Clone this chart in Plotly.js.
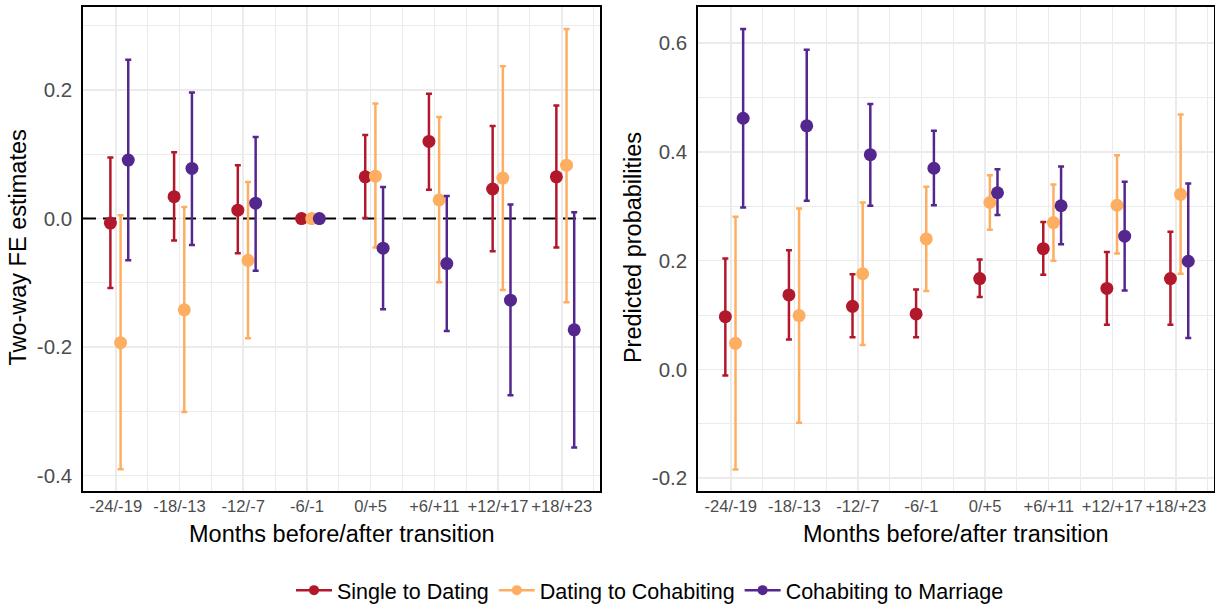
<!DOCTYPE html>
<html>
<head>
<meta charset="utf-8">
<script src="https://cdn.plot.ly/plotly-3.0.1.min.js"></script>
<style>html,body{margin:0;padding:0;background:#fff;}#chart{width:1215px;height:611px;}</style>
</head>
<body>
<div id="chart"></div>
<script>
// ---- data ----
const categories = ['-24/-19','-18/-13','-12/-7','-6/-1','0/+5','+6/+11','+12/+17','+18/+23'];
const seriesNames = ['Single to Dating','Dating to Cohabiting','Cohabiting to Marriage'];

// Left panel: two-way FE estimates
const feSingleEst = [-0.007, 0.034, 0.013, 0, 0.065, 0.120, 0.046, 0.065];
const feSingleLo  = [-0.108, -0.034, -0.054, 0, 0.001, 0.045, -0.051, -0.045];
const feSingleHi  = [0.095, 0.103, 0.083, 0, 0.130, 0.194, 0.144, 0.176];

const feDatingEst = [-0.193, -0.142, -0.065, 0, 0.066, 0.029, 0.063, 0.083];
const feDatingLo  = [-0.390, -0.301, -0.186, 0, -0.045, -0.099, -0.111, -0.130];
const feDatingHi  = [0.005, 0.018, 0.057, 0, 0.179, 0.158, 0.237, 0.295];

const feCohabEst = [0.091, 0.078, 0.024, 0, -0.046, -0.070, -0.127, -0.173];
const feCohabLo  = [-0.065, -0.041, -0.081, 0, -0.141, -0.175, -0.275, -0.356];
const feCohabHi  = [0.247, 0.196, 0.127, 0, 0.049, 0.035, 0.022, 0.010];

// Right panel: predicted probabilities
const ppSingleEst = [0.097, 0.137, 0.116, 0.102, 0.167, 0.222, 0.149, 0.167];
const ppSingleLo  = [-0.011, 0.055, 0.059, 0.059, 0.133, 0.174, 0.082, 0.082];
const ppSingleHi  = [0.204, 0.219, 0.175, 0.147, 0.202, 0.271, 0.216, 0.253];

const ppDatingEst = [0.048, 0.099, 0.176, 0.240, 0.307, 0.270, 0.302, 0.322];
const ppDatingLo  = [-0.184, -0.098, 0.045, 0.144, 0.257, 0.200, 0.213, 0.176];
const ppDatingHi  = [0.281, 0.296, 0.307, 0.336, 0.357, 0.340, 0.394, 0.469];

const ppCohabEst = [0.462, 0.448, 0.395, 0.370, 0.325, 0.301, 0.245, 0.199];
const ppCohabLo  = [0.298, 0.310, 0.301, 0.302, 0.284, 0.230, 0.145, 0.058];
const ppCohabHi  = [0.626, 0.588, 0.488, 0.439, 0.368, 0.373, 0.345, 0.342];

const feTicks = [-0.4, -0.2, 0, 0.2];
const feTickText = ['-0.4', '-0.2', '0.0', '0.2'];
const ppTicks = [-0.2, 0, 0.2, 0.4, 0.6];
const ppTickText = ['-0.2', '0.0', '0.2', '0.4', '0.6'];
const referenceLineY = 0;

// ---- styling ----
const colors = ['#B2182B', '#FDAE61', '#54278F'];
const dodge = [-0.085, 0.075, 0.195];
const FONT = 'Liberation Sans, Arial, Helvetica, sans-serif';
const GRID = '#EBEBEB';
const XRANGE = [0.485, 8.6];

function mk(est, lo, hi, i, xa, ya) {
  const xs = categories.map((c, k) => k + 1 + dodge[i]);
  return {
    type: 'scatter', mode: 'markers', x: xs, y: est, xaxis: xa, yaxis: ya,
    showlegend: false, hoverinfo: 'skip',
    marker: {color: colors[i], size: 13, line: {width: 0}},
    error_y: {type: 'data', symmetric: false,
      array: hi.map((h, k) => h - est[k]),
      arrayminus: lo.map((l, k) => est[k] - l),
      color: colors[i], thickness: 2.5, width: 3}
  };
}

const traces = [
  {type: 'scatter', mode: 'lines', x: XRANGE, y: [referenceLineY, referenceLineY], xaxis: 'x', yaxis: 'y',
    showlegend: false, hoverinfo: 'skip', line: {color: '#000', width: 2, dash: '13px,7px'}},
  mk(feSingleEst, feSingleLo, feSingleHi, 0, 'x', 'y'),
  mk(feDatingEst, feDatingLo, feDatingHi, 1, 'x', 'y'),
  mk(feCohabEst, feCohabLo, feCohabHi, 2, 'x', 'y'),
  mk(ppSingleEst, ppSingleLo, ppSingleHi, 0, 'x2', 'y2'),
  mk(ppDatingEst, ppDatingLo, ppDatingHi, 1, 'x2', 'y2'),
  mk(ppCohabEst, ppCohabLo, ppCohabHi, 2, 'x2', 'y2'),
];
seriesNames.forEach((n, i) => traces.push({
  type: 'scatter', mode: 'lines+markers', x: [null], y: [null], name: n,
  xaxis: 'x', yaxis: 'y', showlegend: true,
  marker: {color: colors[i], size: 10}, line: {color: colors[i], width: 2.5}
}));

const W = 1215, H = 611;
const yTop = (H - 6.7) / H, yBot = (H - 496.5) / H;

function xAxis(domain) {
  return {
    domain: domain, range: XRANGE, tickmode: 'array',
    tickvals: categories.map((c, k) => k + 1), ticktext: categories, tickangle: 0,
    showgrid: true, gridcolor: GRID, gridwidth: 1.5, zeroline: false,
    minor: {tickmode: 'array', tickvals: categories.map((c, k) => k + 1.5), showgrid: true, gridcolor: GRID, gridwidth: 1},
    showline: true, mirror: true, linecolor: '#000', linewidth: 1.7,
    ticks: '', ticklabelstandoff: 5.5,
    tickfont: {family: FONT, size: 16.6, color: '#4D4D4D'}, automargin: false, fixedrange: true
  };
}
function yAxis(range, tv, tt, anchor) {
  return {
    domain: [yBot, yTop], range: range, anchor: anchor, tickmode: 'array', tickvals: tv, ticktext: tt,
    showgrid: true, gridcolor: GRID, gridwidth: 1.5, zeroline: false,
    minor: {tickmode: 'linear', tick0: 0.1, dtick: 0.2, showgrid: true, gridcolor: GRID, gridwidth: 1},
    showline: true, mirror: true, linecolor: '#000', linewidth: 1.7,
    ticks: '', ticklabelstandoff: 5,
    tickfont: {family: FONT, size: 20.5, color: '#4D4D4D'}, automargin: false, fixedrange: true
  };
}

const titleFont = {family: FONT, size: 23.5, color: '#000'};
const layout = {
  width: W, height: H, margin: {l: 0, r: 0, t: 0, b: 0},
  paper_bgcolor: '#fff', plot_bgcolor: '#fff',
  font: {family: FONT},
  xaxis: xAxis([83 / W, 600 / W]),
  yaxis: yAxis([-0.4235, 0.3297], feTicks, feTickText, 'x'),
  xaxis2: Object.assign(xAxis([698 / W, 1214 / W]), {anchor: 'y2'}),
  yaxis2: yAxis([-0.2233, 0.6673], ppTicks, ppTickText, 'x2'),
  showlegend: true,
  legend: {orientation: 'h', x: 650 / W, xanchor: 'center', y: (H - 597) / H, yanchor: 'middle',
    font: {family: FONT, size: 21.5, color: '#000'}, itemwidth: 36, traceorder: 'normal'},
  annotations: [
    {text: 'Two-way FE estimates', xref: 'paper', yref: 'paper', x: 18.5 / W, y: (H - 251) / H,
      textangle: -90, showarrow: false, xanchor: 'center', yanchor: 'middle', font: titleFont},
    {text: 'Predicted probabilities', xref: 'paper', yref: 'paper', x: 633 / W, y: (H - 251) / H,
      textangle: -90, showarrow: false, xanchor: 'center', yanchor: 'middle', font: titleFont},
    {text: 'Months before/after transition', xref: 'paper', yref: 'paper', x: 341.5 / W, y: (H - 540) / H,
      showarrow: false, xanchor: 'center', yanchor: 'middle', font: titleFont},
    {text: 'Months before/after transition', xref: 'paper', yref: 'paper', x: 956 / W, y: (H - 540) / H,
      showarrow: false, xanchor: 'center', yanchor: 'middle', font: titleFont}
  ]
};

Plotly.newPlot('chart', traces, layout, {displayModeBar: false, staticPlot: true});
</script>
</body>
</html>
